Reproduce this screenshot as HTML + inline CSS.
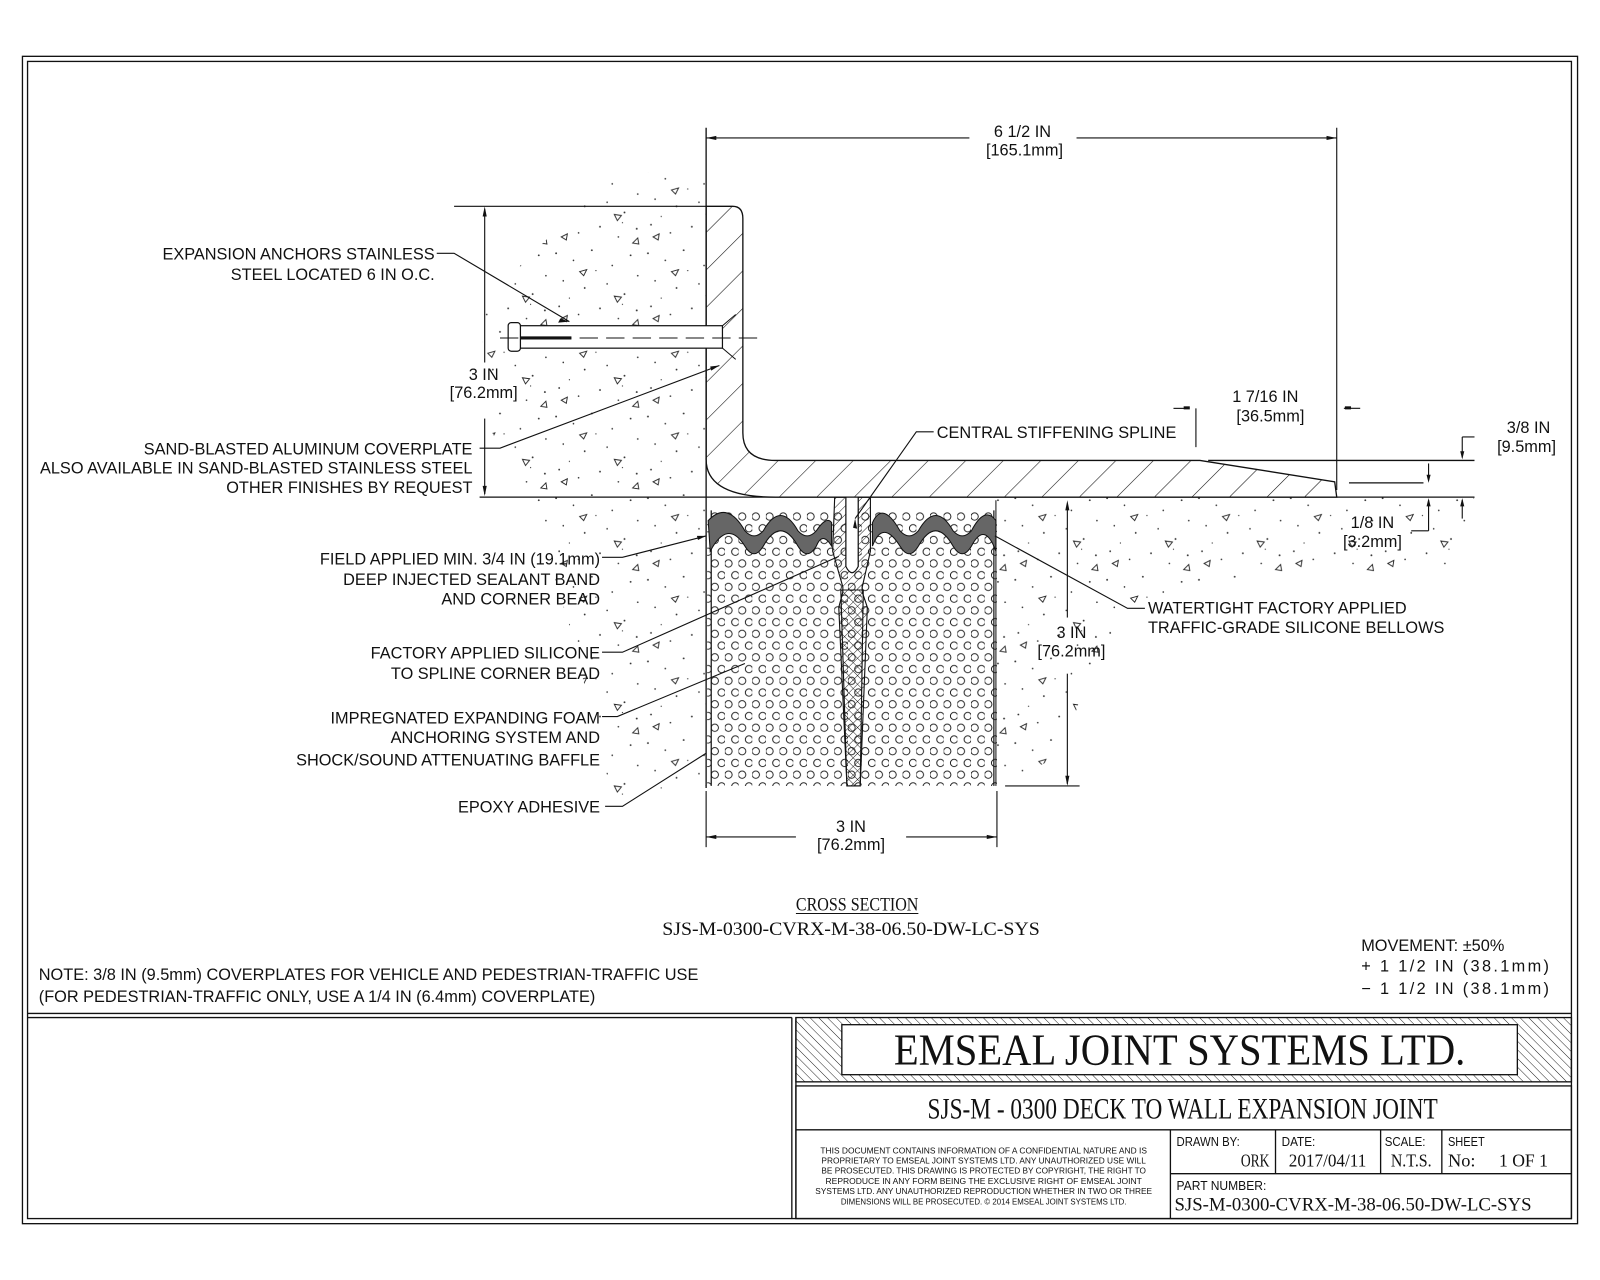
<!DOCTYPE html>
<html><head><meta charset="utf-8"><style>
html,body{margin:0;padding:0;background:#fff;}
svg{display:block;font-family:"Liberation Sans Narrow","Liberation Sans",sans-serif;font-size:16px;}
text{fill:#111;}
.s{font-family:"Liberation Serif",serif;}
</style></head><body>
<svg width="1600" height="1280" viewBox="0 0 1568 1254" xmlns="http://www.w3.org/2000/svg">
<defs>
<pattern id="hatch" width="26" height="26" patternUnits="userSpaceOnUse" patternTransform="rotate(45)">
<line x1="0" y1="0" x2="0" y2="26" stroke="#111" stroke-width="1.1"/></pattern>
<pattern id="hatch2" width="6" height="6" patternUnits="userSpaceOnUse" patternTransform="rotate(-45)">
<line x1="0" y1="0" x2="0" y2="6" stroke="#111" stroke-width="0.9"/></pattern>
<pattern id="hatchSp" width="6" height="6" patternUnits="userSpaceOnUse" patternTransform="rotate(45)">
<line x1="0" y1="0" x2="0" y2="6" stroke="#111" stroke-width="0.9"/></pattern>
<pattern id="foam" width="13.4" height="23" patternUnits="userSpaceOnUse" x="697" y="500">
<circle cx="3.5" cy="6" r="3.6" fill="none" stroke="#111" stroke-width="0.9"/>
<circle cx="10.2" cy="17.5" r="3.6" fill="none" stroke="#111" stroke-width="0.9"/></pattern>
<pattern id="conc" width="90" height="80" patternUnits="userSpaceOnUse">
<g fill="#333"><circle cx="5" cy="8" r="0.9"/><circle cx="22" cy="15" r="0.8"/><circle cx="40" cy="5" r="0.9"/><circle cx="60" cy="20" r="0.8"/><circle cx="78" cy="10" r="0.9"/><circle cx="12" cy="35" r="0.8"/><circle cx="33" cy="42" r="0.9"/><circle cx="55" cy="38" r="0.8"/><circle cx="72" cy="48" r="0.9"/><circle cx="85" cy="30" r="0.8"/><circle cx="8" cy="60" r="0.9"/><circle cx="27" cy="68" r="0.8"/><circle cx="48" cy="62" r="0.9"/><circle cx="66" cy="72" r="0.8"/><circle cx="84" cy="64" r="0.9"/><circle cx="18" cy="52" r="0.6"/><circle cx="44" cy="25" r="0.6"/><circle cx="70" cy="58" r="0.6"/></g>
<g fill="none" stroke="#222" stroke-width="0.9"><path d="M28 26 l7 -2 l-3 6z"/><path d="M62 50 l7 1 l-4 5z"/><path d="M10 72 l6 -3 l-1 6z"/><path d="M80 78 l5 -5 l1 6z"/></g>
</pattern>
<clipPath id="cl"><path d="M600 175 L660 165 L692 175 L692 770 L600 780 L560 620 L520 487 L480 420 L470 300 L540 230Z"/></clipPath>
<clipPath id="cr"><path d="M977 487 L1445 487 L1420 560 L1300 560 L1200 570 L1100 600 L1060 680 L1040 740 L977 770Z"/></clipPath>
</defs>

<rect x="22" y="55" width="1524" height="1144" fill="none" stroke="#111" stroke-width="1.3"/>
<rect x="27" y="60" width="1513" height="1134" fill="none" stroke="#111" stroke-width="1.3"/>
<line x1="27" y1="993" x2="1540" y2="993" stroke="#111" stroke-width="1.3"/>
<line x1="776" y1="997" x2="776" y2="1194" stroke="#111" stroke-width="1.3"/>
<line x1="780" y1="997" x2="780" y2="1194" stroke="#111" stroke-width="1.3"/>
<line x1="27" y1="997" x2="776" y2="997" stroke="#111" stroke-width="1.3"/>
<rect x="780" y="997" width="760" height="63" fill="url(#hatch2)" stroke="#111" stroke-width="1.3"/>
<rect x="825" y="1004" width="662" height="49" fill="#fff" stroke="#111" stroke-width="1.3"/>
<text class="s" x="1156" y="1043" text-anchor="middle" font-size="44" textLength="560" lengthAdjust="spacingAndGlyphs">EMSEAL JOINT SYSTEMS LTD.</text>
<rect x="780" y="1064" width="760" height="130" fill="none" stroke="#111" stroke-width="1.3"/>
<text class="s" x="1159" y="1096" text-anchor="middle" font-size="29" textLength="500" lengthAdjust="spacingAndGlyphs">SJS-M - 0300 DECK TO WALL EXPANSION JOINT</text>
<line x1="780" y1="1107" x2="1540" y2="1107" stroke="#111" stroke-width="1.3"/>
<line x1="1147" y1="1107" x2="1147" y2="1194" stroke="#111" stroke-width="1.3"/>
<line x1="1147" y1="1150" x2="1540" y2="1150" stroke="#111" stroke-width="1.3"/>
<line x1="1250" y1="1107" x2="1250" y2="1150" stroke="#111" stroke-width="1.3"/>
<line x1="1353" y1="1107" x2="1353" y2="1150" stroke="#111" stroke-width="1.3"/>
<line x1="1413" y1="1107" x2="1413" y2="1150" stroke="#111" stroke-width="1.3"/>
<g font-size="8" text-anchor="middle">
<text x="964" y="1130" textLength="320" lengthAdjust="spacingAndGlyphs">THIS DOCUMENT CONTAINS INFORMATION OF A CONFIDENTIAL NATURE AND IS</text>
<text x="964" y="1140" textLength="318" lengthAdjust="spacingAndGlyphs">PROPRIETARY TO EMSEAL JOINT SYSTEMS LTD. ANY UNAUTHORIZED USE WILL</text>
<text x="964" y="1150" textLength="318" lengthAdjust="spacingAndGlyphs">BE PROSECUTED. THIS DRAWING IS PROTECTED BY COPYRIGHT, THE RIGHT TO</text>
<text x="964" y="1160" textLength="310" lengthAdjust="spacingAndGlyphs">REPRODUCE IN ANY FORM BEING THE EXCLUSIVE RIGHT OF EMSEAL JOINT</text>
<text x="964" y="1170" textLength="330" lengthAdjust="spacingAndGlyphs">SYSTEMS LTD. ANY UNAUTHORIZED REPRODUCTION WHETHER IN TWO OR THREE</text>
<text x="964" y="1180" textLength="280" lengthAdjust="spacingAndGlyphs">DIMENSIONS WILL BE PROSECUTED. © 2014 EMSEAL JOINT SYSTEMS LTD.</text>
</g>
<g font-size="13">
<text x="1153" y="1123" textLength="62" lengthAdjust="spacingAndGlyphs">DRAWN BY:</text><text x="1256" y="1123" textLength="33" lengthAdjust="spacingAndGlyphs">DATE:</text><text x="1357" y="1123" textLength="40" lengthAdjust="spacingAndGlyphs">SCALE:</text><text x="1419" y="1123" textLength="36" lengthAdjust="spacingAndGlyphs">SHEET</text>
<text x="1153" y="1166" textLength="88" lengthAdjust="spacingAndGlyphs">PART NUMBER:</text></g>
<text class="s" x="1244" y="1143" text-anchor="end" font-size="18" textLength="28" lengthAdjust="spacingAndGlyphs">ORK</text>
<text class="s" x="1301" y="1143" text-anchor="middle" font-size="18" textLength="76" lengthAdjust="spacingAndGlyphs">2017/04/11</text>
<text class="s" x="1383" y="1143" text-anchor="middle" font-size="18" textLength="40" lengthAdjust="spacingAndGlyphs">N.T.S.</text>
<text class="s" x="1419" y="1143" font-size="18">No:</text><text class="s" x="1517" y="1143" text-anchor="end" font-size="18" textLength="48" lengthAdjust="spacingAndGlyphs">1 OF 1</text>
<text class="s" x="1326" y="1186" text-anchor="middle" font-size="19" textLength="350" lengthAdjust="spacingAndGlyphs">SJS-M-0300-CVRX-M-38-06.50-DW-LC-SYS</text>

<rect x="460" y="160" width="232" height="620" fill="url(#conc)" clip-path="url(#cl)"/>
<rect x="977" y="487" width="470" height="290" fill="url(#conc)" clip-path="url(#cr)"/>

<line x1="692" y1="125" x2="692" y2="772" stroke="#111" stroke-width="1.3"/>
<line x1="470" y1="487" x2="1445" y2="487" stroke="#111" stroke-width="1.3"/>
<line x1="1184" y1="451" x2="1445" y2="451" stroke="#111" stroke-width="1.3"/>
<line x1="1322" y1="473" x2="1395" y2="473" stroke="#111" stroke-width="1.3"/>

<path d="M692 202 L718 202 Q728 202 728 214 L728 424 Q728 451 760 451 L1176 451 L1308 472 L1310 487 L760 487 Q692 487 692 450 Z" fill="url(#hatch)" stroke="#111" stroke-width="1.3"/>

<rect x="510" y="319" width="198" height="22" fill="#fff" stroke="#111" stroke-width="1.2"/>
<rect x="498" y="316" width="12" height="28" rx="3" fill="#fff" stroke="#111" stroke-width="1.2"/>
<line x1="490" y1="331" x2="745" y2="331" stroke="#111" stroke-width="1" stroke-dasharray="18,8"/>
<line x1="510" y1="331" x2="560" y2="331" stroke="#111" stroke-width="3"/>
<path d="M708 319 L721 308 M708 341 L721 352" stroke="#111" stroke-width="1"/>

<rect x="693" y="500" width="284" height="270" fill="url(#foam)"/>
<line x1="697" y1="500" x2="697" y2="770" stroke="#111" stroke-width="1.2"/>
<line x1="974" y1="500" x2="974" y2="770" stroke="#111" stroke-width="1.2"/>
<line x1="976" y1="490" x2="976" y2="770" stroke="#111" stroke-width="1"/>
<path d="M694 510 Q713 490 730 520 Q739 530 748 520 Q765 490 782 520 Q791 530 800 520 Q810 505 815 512 L815 535 Q806 520 800 535 Q791 550 782 535 Q765 505 748 535 Q739 550 730 535 Q713 508 696 540Z" fill="#666" stroke="#111" stroke-width="1"/>
<path d="M855 512 Q865 490 882 520 Q891 530 900 520 Q917 490 934 520 Q943 530 952 520 Q965 495 976 510 L976 540 Q965 510 952 535 Q943 550 934 535 Q917 505 900 535 Q891 550 882 535 Q865 508 855 535Z" fill="#666" stroke="#111" stroke-width="1"/>
<path d="M818 487 L829 487 L829 555 Q835 567 841 555 L841 487 L853 487 L853 540 L845 575 L845 580 L850 595 L843 770 L830 770 L822 595 L826 580 L826 575 L816 540Z" fill="url(#hatchSp)" stroke="#111" stroke-width="1.1"/>
<path d="M824 578 L846 578 L843 770 L830 770Z" fill="url(#hatch2)" stroke="#111" stroke-width="1.1"/>
<path d="M829 487 L829 555 Q835 567 841 555 L841 487Z" fill="#fff" stroke="#111" stroke-width="1.1"/>

<g stroke="#111" stroke-width="1.1" fill="none">
<line x1="692" y1="135" x2="950" y2="135"/><line x1="1055" y1="135" x2="1310" y2="135"/>
<line x1="1310" y1="125" x2="1310" y2="480"/>
<line x1="445" y1="202" x2="692" y2="202"/>
<line x1="475" y1="205" x2="475" y2="355"/><line x1="475" y1="410" x2="475" y2="484"/>
<line x1="1172" y1="400" x2="1172" y2="438"/>
<line x1="1150" y1="400" x2="1165" y2="400"/><line x1="1317" y1="400" x2="1333" y2="400"/>
<line x1="1433" y1="428" x2="1445" y2="428"/><line x1="1433" y1="428" x2="1433" y2="448"/>
<line x1="1400" y1="454" x2="1400" y2="470"/><line x1="1400" y1="490" x2="1400" y2="520"/><line x1="1383" y1="520" x2="1400" y2="520"/>
<line x1="1433" y1="490" x2="1433" y2="508"/>
<line x1="1046" y1="495" x2="1046" y2="605"/><line x1="1046" y1="660" x2="1046" y2="768"/>
<line x1="985" y1="770" x2="1058" y2="770"/>
<line x1="692" y1="775" x2="692" y2="830"/><line x1="977" y1="775" x2="977" y2="830"/>
<line x1="692" y1="820" x2="780" y2="820"/><line x1="888" y1="820" x2="977" y2="820"/>
<polyline points="428,248 445,248 558,315"/>
<polyline points="470,439 490,439 705,358"/>
<polyline points="590,546 610,546 692,525"/>
<polyline points="590,639 610,639 822,545"/>
<polyline points="590,702 605,702 730,650"/>
<polyline points="593,790 610,790 692,738"/>
<polyline points="915,423 898,423 838,508"/>
<polyline points="1122,596 1105,596 975,525"/>
</g>
<g fill="#111">
<path d="M692 135 l10 -2 l0 4z"/><path d="M1310 135 l-10 -2 l0 4z"/>
<path d="M475 202 l-2 10 l4 0z"/><path d="M475 486 l-2 -10 l4 0z"/>
<path d="M558 315 l-9 -3 l-2 4z"/><path d="M705 358 l-9 1 l1 4z"/>
<path d="M692 525 l-9 0 l1 4z"/><path d="M838 508 l-2 9 l4 1z"/>
<path d="M1046 490 l-2 10 l4 0z"/><path d="M1046 770 l-2 -10 l4 0z"/>
<path d="M692 820 l10 -2 l0 4z"/><path d="M977 820 l-10 -2 l0 4z"/>
<rect x="1160" y="398" width="6" height="3"/><rect x="1318" y="398" width="6" height="3"/>
<path d="M1433 450 l-2 -8 l4 0z"/><path d="M1400 473 l-2 -8 l4 0z"/><path d="M1400 488 l-2 8 l4 0z"/><path d="M1433 488 l-2 8 l4 0z"/>
</g>

<g text-anchor="middle">
<text x="1002" y="134">6 1/2 IN</text><text x="1004" y="152">[165.1mm]</text>
<text x="474" y="372">3 IN</text><text x="474" y="390">[76.2mm]</text>
<text x="1240" y="394">1 7/16 IN</text><text x="1245" y="413">[36.5mm]</text>
<text x="1498" y="424">3/8 IN</text><text x="1496" y="443">[9.5mm]</text>
<text x="1345" y="517">1/8 IN</text><text x="1345" y="536">[3.2mm]</text>
<text x="1050" y="625">3 IN</text><text x="1050" y="643">[76.2mm]</text>
<text x="834" y="815">3 IN</text><text x="834" y="833">[76.2mm]</text>
</g>
<g text-anchor="end">
<text x="426" y="254">EXPANSION ANCHORS STAINLESS</text>
<text x="426" y="274">STEEL LOCATED 6 IN O.C.</text>
<text x="463" y="445">SAND-BLASTED ALUMINUM COVERPLATE</text>
<text x="463" y="464">ALSO AVAILABLE IN SAND-BLASTED STAINLESS STEEL</text>
<text x="463" y="483">OTHER FINISHES BY REQUEST</text>
<text x="588" y="553">FIELD APPLIED MIN. 3/4 IN (19.1mm)</text>
<text x="588" y="573">DEEP INJECTED SEALANT BAND</text>
<text x="588" y="592">AND CORNER BEAD</text>
<text x="588" y="645">FACTORY APPLIED SILICONE</text>
<text x="588" y="665">TO SPLINE CORNER BEAD</text>
<text x="588" y="709">IMPREGNATED EXPANDING FOAM</text>
<text x="588" y="728">ANCHORING SYSTEM AND</text>
<text x="588" y="750">SHOCK/SOUND ATTENUATING BAFFLE</text>
<text x="588" y="796">EPOXY ADHESIVE</text>
</g>
<text x="918" y="429">CENTRAL STIFFENING SPLINE</text>
<text x="1125" y="601">WATERTIGHT FACTORY APPLIED</text>
<text x="1125" y="620">TRAFFIC-GRADE SILICONE BELLOWS</text>

<text class="s" x="840" y="892" text-anchor="middle" font-size="19" textLength="120" lengthAdjust="spacingAndGlyphs">CROSS SECTION</text>
<line x1="780" y1="895" x2="900" y2="895" stroke="#111" stroke-width="1"/>
<text class="s" x="834" y="916" text-anchor="middle" font-size="19" textLength="370" lengthAdjust="spacingAndGlyphs">SJS-M-0300-CVRX-M-38-06.50-DW-LC-SYS</text>
<text x="38" y="960">NOTE: 3/8 IN (9.5mm) COVERPLATES FOR VEHICLE AND PEDESTRIAN-TRAFFIC USE</text>
<text x="38" y="982">(FOR PEDESTRIAN-TRAFFIC ONLY, USE A 1/4 IN (6.4mm) COVERPLATE)</text>
<text x="1334" y="932">MOVEMENT: ±50%</text>
<text x="1334" y="952" textLength="184" lengthAdjust="spacing">+ 1 1/2 IN (38.1mm)</text>
<text x="1334" y="974" textLength="184" lengthAdjust="spacing">− 1 1/2 IN (38.1mm)</text>
</svg>
</body></html>
